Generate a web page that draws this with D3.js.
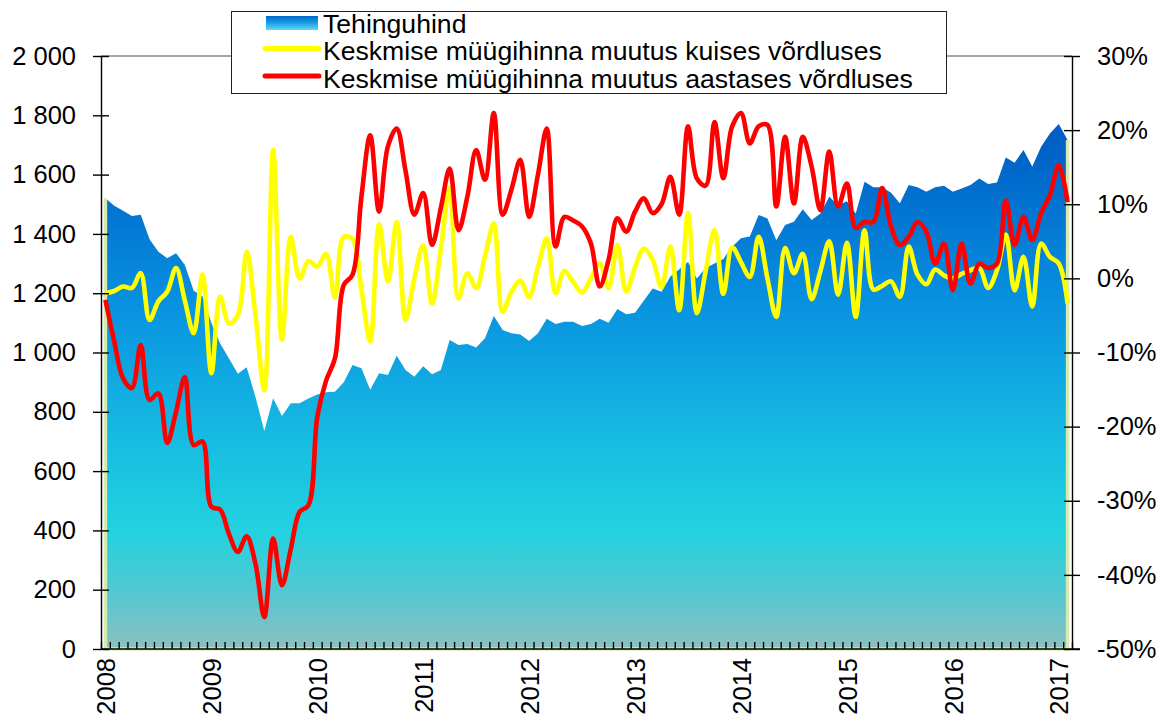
<!DOCTYPE html>
<html>
<head>
<meta charset="utf-8">
<script src="https://cdn.jsdelivr.net/npm/d3@7"></script>
<style>
  html, body { margin: 0; padding: 0; background: #fff; }
  svg { display: block; }
  text { font-family: "Liberation Sans", Arial, sans-serif; fill: #000; }
</style>
</head>
<body>
<svg id="chart" width="1160" height="718"></svg>
<script>
// ---------- DATA ----------
const years = ["2008","2009","2010","2011","2012","2013","2014","2015","2016","2017"];
const leftTicks = [0,200,400,600,800,1000,1200,1400,1600,1800,2000];
const rightTicks = [-50,-40,-30,-20,-10,0,10,20,30];
const seriesNames = ["Tehinguhind","Keskmise müügihinna muutus kuises võrdluses","Keskmise müügihinna muutus aastases võrdluses"];

// Tehinguhind (monthly, Jan 2008 .. Feb 2017)
const tehinguhind = [
  1520,1495,1478,1460,1465,1382,1340,1318,1335,1295,1208,1190,
  1100,1030,980,928,950,850,735,846,786,829,829,845,
  858,866,868,900,958,947,874,930,924,989,941,918,
  954,927,941,1042,1025,1029,1017,1048,1123,1076,1065,1061,
  1039,1065,1114,1096,1104,1104,1089,1096,1114,1100,1147,1129,
  1134,1175,1216,1205,1256,1280,1305,1250,1285,1300,1315,1357,
  1385,1391,1464,1452,1379,1430,1441,1483,1447,1469,1525,1497,
  1510,1469,1576,1557,1557,1539,1503,1565,1557,1542,1557,1562,
  1542,1553,1565,1587,1568,1573,1658,1640,1683,1627,1694,1739,
  1771,1717
];
// Monthly change, %
const kuine = [
  -2.0,-1.7,-1.1,-1.3,0.7,-5.6,-3.1,-1.8,1.4,-3.0,-7.4,0.5,
  -12.8,-2.5,-6.1,-5.0,3.6,-5.0,-15.1,17.3,-8.3,5.6,0.0,2.3,
  1.6,3.3,-2.6,5.6,5.3,-1.5,-8.5,7.3,-0.4,7.6,-5.6,0.0,
  4.5,-3.4,4.0,12.2,-2.7,0.7,-1.3,3.0,7.4,-4.5,-1.8,-0.3,
  -2.5,1.5,5.4,-2.0,1.0,-0.5,-1.9,0.0,2.0,-1.3,4.5,-1.8,
  1.5,4.0,2.5,-1.2,4.3,-4.3,8.8,-4.7,1.0,6.5,-2.1,4.2,
  2.2,0.2,5.6,0.0,-5.2,4.1,0.7,3.3,-2.8,1.0,5.0,-2.2,
  4.8,-5.2,6.5,-1.5,-1.0,-0.4,-2.5,4.3,0.5,-0.8,1.2,0.4,
  0.0,0.6,1.1,1.4,-1.3,1.1,5.9,-1.6,2.9,-3.8,4.7,2.9,
  2.0,-3.4
];
// Annual change, %
const aastane = [
  -2.9,-8.5,-13.5,-14.8,-9.0,-16.4,-15.5,-22.2,-18.0,-13.3,-22.5,-22.0,
  -30.8,-31.2,-34.5,-36.9,-34.8,-38.5,-45.7,-35.1,-41.4,-36.5,-31.5,-30.6,
  -18.7,-13.8,-10.8,-0.9,0.5,11.0,19.3,9.0,17.8,20.2,14.5,8.6,
  11.5,4.5,9.5,14.8,6.5,11.0,17.3,13.3,22.3,8.6,12.0,16.0,
  8.3,14.0,20.2,4.3,8.3,7.8,7.0,4.7,-1.1,2.5,8.1,6.3,
  9.0,10.8,8.8,10.0,13.7,8.6,20.5,13.5,12.5,21.1,13.5,20.5,
  22.3,18.2,20.5,20.7,9.7,19.1,10.1,19.1,15.1,9.2,17.1,9.7,
  12.8,6.8,7.6,7.6,12.2,7.0,4.5,5.6,7.6,6.3,2.0,4.7,
  -1.6,4.7,-0.7,2.0,1.4,2.0,10.5,4.5,8.3,5.2,8.8,11.2,
  15.3,10.3
];

// ---------- LAYOUT ----------
const svg = d3.select("#chart");
const L = 101, R = 1072, T = 56, B = 649;
const n = tehinguhind.length;

const x = d3.scaleLinear().domain([0, n]).range([L, R]);
const yL = d3.scaleLinear().domain([0, 2000]).range([B, T]);
const yR = d3.scaleLinear().domain([-50, 30]).range([B, T]);

const defs = svg.append("defs");
const g1 = defs.append("linearGradient").attr("id","areaGrad")
  .attr("gradientUnits","userSpaceOnUse").attr("x1",0).attr("x2",0).attr("y1",T).attr("y2",B);
[[0,"#0050b6"],[0.16,"#0062c8"],[0.42,"#0892e0"],[0.66,"#18bee2"],[0.8,"#22d2e0"],[0.9,"#50c8d2"],[1,"#8cc0c0"]]
  .forEach(([o,c]) => g1.append("stop").attr("offset",o).attr("stop-color",c));
const g2 = defs.append("linearGradient").attr("id","legGrad")
  .attr("x1",0).attr("x2",0).attr("y1",0).attr("y2",1);
[[0,"#0068cc"],[0.5,"#1c9ee4"],[1,"#60d8f2"]]
  .forEach(([o,c]) => g2.append("stop").attr("offset",o).attr("stop-color",c));

// ---------- AREA ----------
const area = d3.area()
  .x((d,i) => x(i + 0.5))
  .y0(yL(0))
  .y1(d => yL(d));
svg.append("path").datum(tehinguhind).attr("d", area).attr("fill","url(#areaGrad)");

// pale outline on left, bottom and right edges of the area
const edgePts = [[0.5, tehinguhind[0]],[0.5,0],[n-0.5,0],[n-0.5,tehinguhind[n-1]]];
svg.append("path")
  .attr("d", d3.line().x(d => x(d[0])).y(d => yL(d[1]))(edgePts))
  .attr("fill","none").attr("stroke","#d6ebb0").attr("stroke-width",3.5);

// ---------- LINES ----------
const line = d3.line()
  .x((d,i) => x(i + 0.5))
  .y(d => yR(d))
  .curve(d3.curveCatmullRom.alpha(0.5));
svg.append("path").datum(kuine).attr("d", line)
  .attr("fill","none").attr("stroke","#ffff00").attr("stroke-width",4.6).attr("stroke-linejoin","round");
svg.append("path").datum(aastane).attr("d", line)
  .attr("fill","none").attr("stroke","#ff0000").attr("stroke-width",4.6).attr("stroke-linejoin","round");

// ---------- AXES ----------
const loc = d3.formatLocale({decimal: ",", thousands: " ", grouping: [3], currency: ["", ""]});
const fmtL = loc.format(",d");
const axisFont = 25.5;

// top plot border
svg.append("line").attr("x1",L).attr("x2",R).attr("y1",T).attr("y2",T)
  .attr("stroke","#8a8a8a").attr("stroke-width",1.5);

const gl = svg.append("g").attr("transform",`translate(${L},0)`)
  .call(d3.axisLeft(yL).tickValues(leftTicks).tickFormat(fmtL).tickSizeInner(8).tickSizeOuter(0).tickPadding(17));
gl.selectAll(".tick line").attr("x2",-8).attr("x1",8);
const gr = svg.append("g").attr("transform",`translate(${R},0)`)
  .call(d3.axisRight(yR).tickValues(rightTicks).tickFormat(d => d + "%").tickSizeInner(8).tickSizeOuter(0).tickPadding(17));
gr.selectAll(".tick line").attr("x1",-8).attr("x2",8);

// monthly minor ticks
const gm = svg.append("g").attr("transform",`translate(0,${B})`)
  .call(d3.axisBottom(x).tickValues(d3.range(0, n + 1)).tickFormat("").tickSizeInner(-7).tickSizeOuter(0));
gm.select(".domain").attr("d", `M${L},0H${R + 8}`);

// year labels
const gy = svg.append("g").attr("transform",`translate(0,${B})`)
  .call(d3.axisBottom(x).tickValues(years.map((y,k) => k * 12 + 0.5)).tickFormat((d,k) => years[k]).tickSize(0));
gy.select(".domain").remove();
gy.selectAll(".tick text")
  .attr("transform","rotate(-90)")
  .attr("text-anchor","end")
  .attr("x",-9).attr("y",0).attr("dy","0.36em");

svg.selectAll(".domain, .tick line").attr("stroke","#000").attr("stroke-width",1.4);
svg.selectAll(".tick text").style("font-size", axisFont + "px")
  .style("font-family", '"Liberation Sans", Arial, sans-serif').attr("fill","#000");

// ---------- LEGEND ----------
const lg = svg.append("g");
lg.append("rect").attr("x",231.5).attr("y",11.5).attr("width",715).attr("height",82)
  .attr("fill","#fff").attr("stroke","#222").attr("stroke-width",1);
const rows = [23, 50.5, 78];
lg.append("rect").attr("x",266).attr("y",rows[0]-7).attr("width",52).attr("height",14).attr("fill","url(#legGrad)");
lg.append("line").attr("x1",265).attr("x2",319).attr("y1",rows[1]-2).attr("y2",rows[1]-2)
  .attr("stroke","#ffff00").attr("stroke-width",5).attr("stroke-linecap","round");
lg.append("line").attr("x1",265).attr("x2",319).attr("y1",rows[2]-2).attr("y2",rows[2]-2)
  .attr("stroke","#ff0000").attr("stroke-width",5).attr("stroke-linecap","round");
seriesNames.forEach((s,k) => {
  lg.append("text").attr("x",323).attr("y",rows[k]).attr("dy","0.36em")
    .style("font-size","26.6px").text(s);
});
</script>
</body>
</html>
